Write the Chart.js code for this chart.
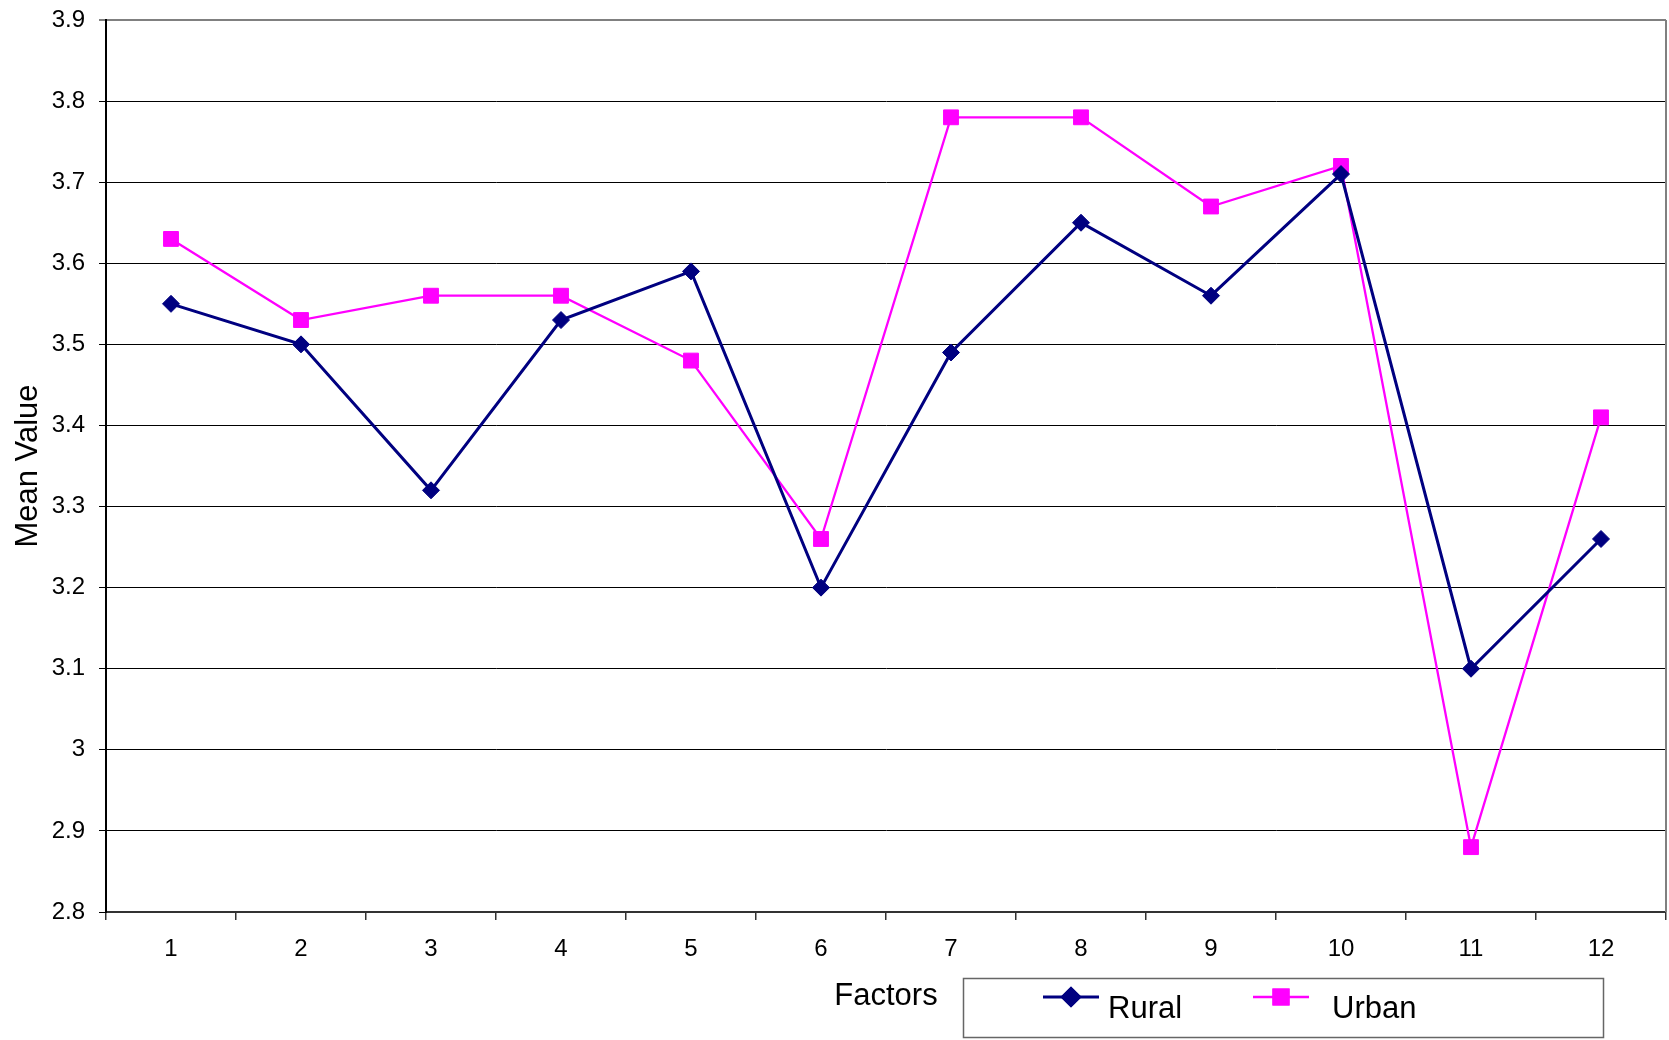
<!DOCTYPE html>
<html>
<head>
<meta charset="utf-8">
<script src="https://cdn.jsdelivr.net/npm/chart.js@4/dist/chart.umd.min.js"></script>
<style>
    body { margin: 0; background: #fff; }
    #wrap { width: 1669px; height: 1040px; }
</style>
</head>
<body>
<div id="wrap"><canvas id="meanChart" width="1669" height="1040"></canvas></div>
<script>
// values
const factors = ['1', '2', '3', '4', '5', '6', '7', '8', '9', '10', '11', '12'];
const rural = [3.55, 3.50, 3.32, 3.53, 3.59, 3.20, 3.49, 3.65, 3.56, 3.71, 3.10, 3.26];
const urban = [3.63, 3.53, 3.56, 3.56, 3.48, 3.26, 3.78, 3.78, 3.67, 3.72, 2.88, 3.41];
const yMin = 2.8;
const yMax = 3.9;
const yStep = 0.1;

const FONT = "'Liberation Sans', Arial, sans-serif";

// legend box sitting next to the x-axis title, like the original
const boxLegend = {
    id: 'boxLegend',
    afterDraw(chart) {
        const ctx = chart.ctx;
        ctx.save();
        ctx.strokeStyle = '#666';
        ctx.lineWidth = 1.5;
        ctx.strokeRect(963.5, 978.5, 640, 59);

        const items = [
            { x: 1043, textX: 1108 },
            { x: 1253, textX: 1332 }
        ];
        chart.data.datasets.forEach((ds, i) => {
            const it = items[i];
            const y = 997;
            ctx.strokeStyle = ds.borderColor;
            ctx.lineWidth = ds.borderWidth;
            ctx.beginPath();
            ctx.moveTo(it.x, y);
            ctx.lineTo(it.x + 56, y);
            ctx.stroke();
            Chart.helpers.drawPoint(ctx, {
                pointStyle: ds.pointStyle,
                radius: ds.pointRadius,
                borderWidth: 1,
                rotation: 0
            }, it.x + 28, y);
            ctx.fillStyle = ds.pointBackgroundColor;
            ctx.strokeStyle = ds.pointBorderColor;
            ctx.fill();
            ctx.stroke();

            ctx.fillStyle = '#000';
            ctx.font = '31px ' + FONT;
            ctx.textBaseline = 'alphabetic';
            ctx.textAlign = 'left';
            ctx.fillText(ds.label, it.textX, 1018);
        });

        // right frame of the plot area
        const a = chart.chartArea;
        ctx.strokeStyle = '#808080';
        ctx.lineWidth = 2;
        ctx.beginPath();
        ctx.moveTo(a.right, a.top);
        ctx.lineTo(a.right, a.bottom);
        ctx.stroke();
        ctx.restore();
    }
};

const chart = new Chart(document.getElementById('meanChart').getContext('2d'), {
    type: 'line',
    data: {
        labels: factors,
        datasets: [
            {
                label: 'Rural',
                data: rural,
                borderColor: '#000080',
                backgroundColor: '#000080',
                borderWidth: 3,
                pointStyle: 'rectRot',
                pointRadius: 8.5,
                pointHoverRadius: 8.5,
                pointBackgroundColor: '#000080',
                pointBorderColor: '#000080',
                pointBorderWidth: 1,
                tension: 0
            },
            {
                label: 'Urban',
                data: urban,
                borderColor: '#ff00ff',
                backgroundColor: '#ff00ff',
                borderWidth: 2.3,
                pointStyle: 'rect',
                pointRadius: 10.5,
                pointHoverRadius: 10.5,
                pointBackgroundColor: '#ff00ff',
                pointBorderColor: '#ff00ff',
                pointBorderWidth: 1,
                tension: 0
            }
        ]
    },
    options: {
        responsive: false,
        animation: false,
        layout: { autoPadding: false, padding: { top: 20, right: 3, left: 0, bottom: 0 } },
        plugins: {
            legend: { display: false },
            tooltip: { enabled: false }
        },
        scales: {
            x: {
                offset: true,
                grid: {
                    offset: true,
                    drawOnChartArea: false,
                    tickLength: 8,
                    color: '#333',
                    lineWidth: 1.5
                },
                border: { color: '#333', width: 2 },
                ticks: {
                    color: '#000',
                    padding: 15,
                    maxRotation: 0,
                    font: { family: FONT, size: 24 }
                },
                title: {
                    display: true,
                    text: 'Factors',
                    color: '#000',
                    font: { family: FONT, size: 31 },
                    padding: { top: 0, bottom: 25 }
                },
                afterFit(scale) {
                    scale.height = 128;
                    scale.paddingLeft = 0;
                    scale.paddingRight = 0;
                }
            },
            y: {
                min: yMin,
                max: yMax,
                grid: {
                    color: c => Math.abs(c.tick.value - yMax) < 1e-6 ? '#808080' : '#000',
                    lineWidth: c => Math.abs(c.tick.value - yMax) < 1e-6 ? 2 : 1,
                    tickLength: 7
                },
                border: { color: '#000', width: 2 },
                ticks: {
                    stepSize: yStep,
                    color: '#000',
                    padding: 14,
                    font: { family: FONT, size: 24 },
                    callback: v => String(Math.round(v * 10) / 10)
                },
                title: {
                    display: true,
                    text: 'Mean Value',
                    color: '#000',
                    font: { family: FONT, size: 31 },
                    padding: { top: 10, bottom: 0 }
                },
                afterFit(scale) {
                    scale.width = 106;
                    scale.paddingTop = 0;
                    scale.paddingBottom = 0;
                }
            }
        }
    },
    plugins: [boxLegend]
});
</script>
</body>
</html>
